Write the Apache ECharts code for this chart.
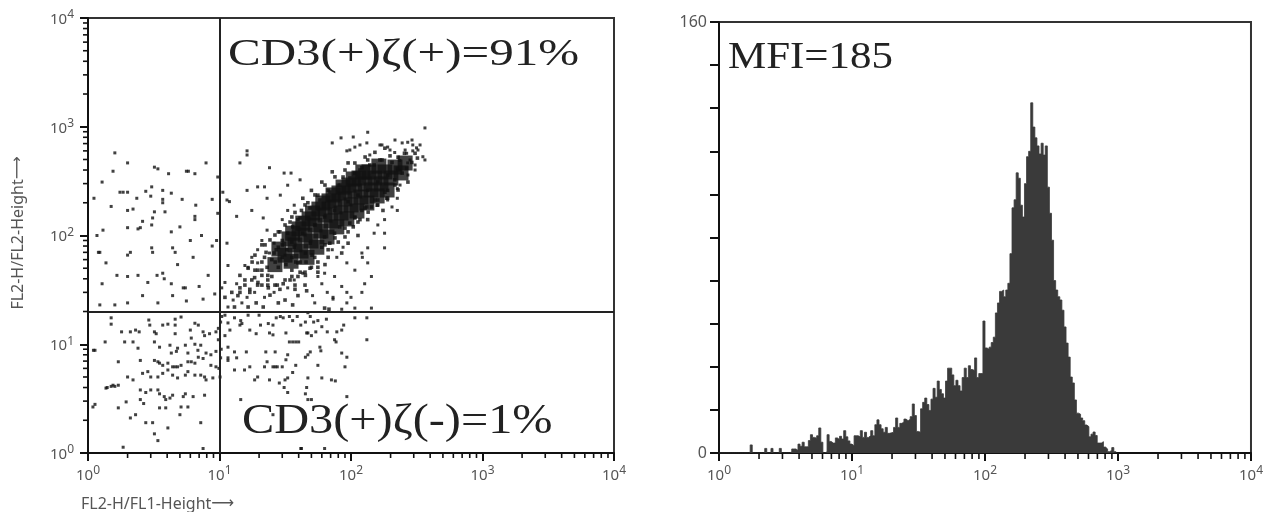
<!DOCTYPE html>
<html><head><meta charset="utf-8">
<script src="https://cdn.jsdelivr.net/npm/echarts@6/dist/echarts.min.js"></script>
<style>html,body{margin:0;padding:0;background:#fff}#c{width:1266px;height:512px}</style>
</head><body><div id="c"></div>
<script>
// ---------- tick labels ----------
const decadeValues = [1, 10, 100, 1000, 10000];
const decadeExponents = ['0', '1', '2', '3', '4'];
const minorTickValues = [2,3,4,5,6,7,8,9,20,30,40,50,60,70,80,90,200,300,400,500,600,700,800,900,2000,3000,4000,5000,6000,7000,8000,9000];
const histYLabelValues = [0, 160];

// ---------- dot plot (FL1 vs FL2) ----------
const quadrantX = 10;
const quadrantY = 20;
const lowerLeftPoints = [[1.5,17.5],[1.5,15.3],[2.9,16.7],[2.95,15],[3.7,15],[4.05,15.3],[4.6,17],[4.6,15],[5.1,17.8],[6.5,15.6],[6.9,15],[1.8,13],[2.1,13],[2.3,13.5],[2.45,13],[3.2,13],[3.3,12.5],[4.6,12.5],[6,13.5],[6.1,11.4],[7.5,13],[7.7,12],[8.4,12.5],[9.4,13],[1.13,8.8],[1.35,10.5],[1.9,10.5],[2.2,10.5],[2.4,9.2],[3.2,10.5],[3.5,9.4],[4.2,9.8],[4.3,8.3],[4.7,8.6],[4.8,9.2],[5.5,9.8],[5.75,8.3],[6.5,10],[6.85,8.8],[7.2,9.8],[7.9,8.3],[8.6,8],[9.4,8.6],[1.7,6.9],[2.5,7.1],[3.2,7.1],[3.4,6.9],[3.5,6.7],[3.7,6.4],[4.05,6.7],[4.4,6.2],[4.6,6.2],[4.8,6.2],[5.1,6.4],[5.75,6.9],[6.1,6.9],[6.5,6.7],[6.9,7.6],[7.5,7.4],[8.6,6.4],[9.4,6.2],[2.6,5.4],[2.85,5.6],[3.0,5.0],[3.4,5.0],[3.7,5.4],[4.05,5.8],[4.4,5.2],[4.8,4.9],[5.5,5.2],[5.75,5.6],[6.5,5.2],[7.2,5.2],[7.7,5.0],[7.9,4.7],[8.9,4.9],[1.37,3.95],[1.55,4.2],[1.7,4.2],[2.0,5.0],[2.2,4.7],[2.5,3.8],[2.75,3.6],[3.0,3.8],[3.4,3.8],[3.5,3.5],[3.8,3.3],[3.9,3.1],[4.2,3.2],[4.4,3.4],[5.3,3.3],[5.5,3.5],[6.3,3.3],[7.7,3.4],[1.09,2.65],[1.7,2.6],[1.95,2.95],[2.5,3.1],[2.65,2.85],[3.5,2.6],[3.9,2.6],[5.1,2.65],[5.75,2.65],[2.1,2.1],[2.3,2.25],[2.75,1.9],[3.1,1.9],[4.05,1.7],[5.0,2.25],[7.2,1.9],[3.2,1.5],[3.4,1.3],[1.85,1.13],[7.5,1.1],[1.1,8.8],[1.13,2.8],[1.4,4.0],[1.5,4.1],[1.6,4.1],[9.8,14],[9.8,11],[10.3,9],[10.2,7.5],[9.9,6],[10.1,5],[10.2,16],[10.4,18]];
const upperLeftPoints = [[1.6,575],[1.55,390],[2.0,465],[3.2,425],[3.4,410],[4.1,370],[5.6,390],[5.8,390],[6.5,370],[7.9,465],[1.28,310],[1.11,220],[1.5,185],[1.75,250],[1.85,250],[2.0,250],[2.35,220],[2.0,170],[2.2,175],[2.75,255],[3.05,280],[3.0,230],[3.7,260],[3.7,215],[3.7,200],[4.3,245],[5.2,215],[6.6,190],[8.8,215],[3.2,165],[3.1,145],[3.05,125],[3.85,165],[2.6,135],[2.5,118],[2.4,115],[2.0,118],[1.3,112],[1.17,100],[5.0,120],[4.3,108],[6.5,150],[6.5,140],[7.3,100],[6.0,90],[4.4,77],[3.05,77],[2.1,70],[1.2,70],[8.8,80],[9.5,90],[9.7,345],[9.7,160],[1.23,70],[2.0,66],[3.1,70],[4.6,70],[6.3,63],[1.37,56],[1.28,36],[1.66,43],[2.0,42],[2.4,43],[2.85,37],[3.35,43],[3.7,45],[3.8,40],[4.3,36],[4.8,54],[5.3,33],[5.5,33],[7.0,34],[8.2,43],[1.6,23],[2.0,24],[2.6,28],[3.4,24],[4.4,28],[5.6,25],[7.5,26],[9.2,29],[1.23,23]];
const lowerRightPoints = [[11,18.5],[11.6,15.7],[12,13.5],[11,12],[13,17.5],[14.5,16.5],[14.3,15],[14.8,15.5],[16.5,18.5],[17,13.5],[19,12.5],[20,18.5],[20.5,15],[23.5,15.5],[25.5,15],[27,17.5],[29,18],[30.5,17.5],[34,18],[36,16.5],[39,18],[41.5,15],[47,12.7],[54,13],[24,12.7],[25.5,12.2],[32,12.7],[34,10.5],[36,10.5],[40,10.5],[46,12.7],[11.6,9.4],[11.6,7.5],[11.6,7.1],[13,8.5],[16,8.5],[17,6.2],[22.5,8.5],[22,6.2],[23,6.9],[25.5,6.2],[26.5,6.2],[27.5,6.2],[26.5,8.5],[30,6.2],[32,7.2],[33,8],[36,5.5],[31.5,4.7],[33,4.9],[38,6.4],[47,8],[47,4.9],[38,10.5],[24,4.7],[28.5,4.4],[31,4],[33,3.6],[45,3.5],[13,5.8],[15.5,5.8],[18.5,4.7],[19.5,5],[47,3.1],[14.5,3.1],[25.5,2.25],[41.5,1.1],[13.5,7.5],[45,16],[49,18],[52,16],[56,16.5],[60,14.5],[65,17],[66,13],[78,13],[85,13.5],[88,15],[107,17.5],[132,17.5],[132,11],[75,11],[77,10.5],[50,12],[58,9.4],[59,8.7],[45,7.6],[49,8.5],[56,6.4],[85,8.3],[93,7.6],[90,6.2],[60,4.9],[71,4.7],[76,4.6],[46,4],[93,3.3],[50,3.1],[42,1.1],[63,1.1],[47,19.5]];
const upperRightSparse = [[365,975],[134,890],[104,805],[84,790],[72,710],[132,710],[107,650],[93,600],[172,680],[190,650],[245,710],[270,720],[295,680],[315,640],[295,600],[352,530],[265,570],[307,400],[270,465],[215,580],[235,490],[225,400],[225,270],[225,220],[225,170],[205,183],[190,212],[180,140],[160,125],[150,105],[180,105],[180,77],[134,77],[122,63],[134,56],[143,42],[127,36],[121,30],[143,21.5],[107,21.5],[93,24],[85,34],[75,42],[66,30],[73,27],[53,24],[51,28],[60,36],[56,42],[43,45],[37,39],[33,33],[26,30],[22,27],[18.5,30],[16.2,27],[14.8,24],[12.7,25.5],[11.6,22],[11,37],[10.4,33],[13.5,36],[16.5,51],[19.5,56],[11.6,53],[11.4,212],[11.9,205],[10.6,250],[14.3,465],[16.2,550],[16.2,600],[24,420],[31,375],[35,375],[41,325],[33,290],[16.2,260],[19.5,280],[22,280],[23,220],[29,235],[17.6,170],[13.5,150],[21.5,145],[30,140],[33,170],[37,190],[23,112],[21,90],[26,85],[19.5,74],[17.6,63],[15.6,53],[11.4,85],[24,69],[78,63],[87,78],[93,56],[107,48],[121,69],[72,74],[63,45],[73,26],[93,30],[100,27],[85,21],
  [216,755],[258,611],[291,755],[323,611],[281,495],[236,400],[335,680],[198,611],[166,680],[139,550],[117,680],[98,611],[271,360],[236,291],[307,445],[365,495]];
const upperRightHalo = [[11,27],[12.4,30],[13.8,28],[15.6,35],[17.6,39],[18.5,41],[21,48],[23,51],[25,42],[23.3,39],[28,51],[30,63],[32.5,74],[35.5,63],[37,78],[39.5,56],[45,69],[49,85],[53,63],[60,78],[63,97],[69,85],[75,105],[82,120],[90,97],[98,130],[107,148],[121,170],[134,140],[143,183],[160,212],[175,170],[190,260],[215,325],[245,375],[265,415],[290,470],[320,515],[307,570],[255,570],[228,525],[205,470],[172,495],[150,445],[134,495],[121,420],[107,375],[95,465],[87,345],[80,290],[72,385],[67,260],[60,310],[56,235],[50,260],[47,200],[43,220],[42,170],[39.5,140],[35.5,148],[36,120],[33,105],[30,90],[28,78],[26,69],[26.5,57],[22,63],[35.5,87],[43,105],[53,125],[63,148],[75,170],[95,205],[113,235],[134,260],[160,310],[190,360],[225,415],[187,220],[158,190],[132,183],[117,140],[104,120],[113,100],[95,85],[85,69],[67,63],[56,51],[50,51],[45,43],[39.5,42],[35.5,42],[30.5,36],[27.5,35],[23.5,33],[19.5,35],[17,30],[14.3,33],[13,22],[16.5,22],[19,24],[21.5,22],[28,24],[31.5,25.5],[36,23],[39.5,28],[46,31],[63,21.5],[68,21],
  [37.5,35],[44.7,46],[56,57],[67,74],[80,87],[95,108],[113,133],[135,164],[160,191],[190,221],[228,262],[271,310],[41,57],[50.5,66],[63.4,82],[75.5,95],[90,117],[107,145],[128,179],[152,212],[181,250],[216,291],
  [26.4,101],[31.5,125],[37.5,163],[44.7,191],[53.2,236],[63.4,291],[75.5,346],[90,400],[107,464],[128,527],[152,582],[181,635],[22.2,82],[28.8,108],[34.4,133],[41,145],[48.8,179],[58.1,212],[69.2,251],[82.5,291],[98.2,338],[117,400],[139,445],[166,495],[198,540],
  [17,32],[19.6,37],[21,43],[23.3,35],[18.6,48],[15.6,39],[14.3,30],[24.2,28.3],[28.8,32],[34.4,39],
  [17.7,57],[19.6,48],[21,57],[22.6,70],[25,60],[27,74],[30,82],[32,54],[35.5,48],[38,57],[41,46],[45.5,57],[48.8,50],[56,46],[63.4,54],[23.3,43],[21,35],[26.4,35],[31.5,39],[37.5,32],[44.7,35],[18.6,66],[16.5,50],[14.3,43],[24.2,91],[21,82],[28,108]];
const upperRightCore = [[26.4,54],[31.5,66],[37.5,82],[44.7,101],[53.2,125],[63.4,154],[75.5,183],[90,217],[107,257],[128,298],[152,338],[181,384],[216,426],[258,464],
  [35,58],[41.7,72],[49.6,89],[59,110],[70.5,136],[84,161],[100,191],[119,226],[142,262],[169,298],[201,338],[240,376],
  [28.3,75],[33.8,93],[40.3,115],[48,142],[57,175],[68,208],[81,246],[96.5,291],[115,338],[137,384],[163,435],
  [46.3,63],[55,78],[65.7,97],[78,120],[93,142],[111,168],[132,199],[158,231],[188,262],
  [36,105],[43,130],[51,161],[61,199],[73,236],[87,279],[104,331],[123,384]];

// ---------- histogram (64 channels per decade, counts per channel) ----------
const channelsPerDecade = 64;
const histCounts = [0,0,0,0,0,0,0,0,0,0,0,0,0,0,0,3,0,0,0,0,0,0,1.7,0,0,1.7,0,0,0,1.7,
  0,0,0,0,0.5,1.5,1.5,1,3.3,2.5,4,2.3,2.3,4.6,6.8,5.8,5.5,6.4,9.3,4,
  0,0.5,6.8,4.3,3.7,3.7,5.6,5,6.2,5.2,8.3,6,4.5,3.3,2.7,6.4,6.4,6,8.3,5.8,
  7.7,5.8,6.5,8.3,6.4,10.5,12.3,10.5,9,7.7,9.5,7.3,7.5,7.7,9.5,13,9.5,11,11.5,12.6,
  12,12.5,13.5,18.2,13.9,8,7.7,16.4,18.8,20.4,18,15.8,20,24,20.7,26.7,23.6,22,20.4,26.7,
  31.5,31.5,29,25,27,25,23,28,31.5,28,32.4,31,30.6,35.3,28,29.5,29.5,49,39,38.5,
  39.3,41,43,52,55.7,60,60.5,58,60.5,63,74,91,94,104,102,92,87.6,100,110,112,
  130,121,117,114,111,115,110.6,114,98.7,89,79,64,60.5,58,56.8,53,46.8,40.8,35.6,28.2,
  26,19.7,14.8,14.4,13,12,10.4,9.8,6,7,7.8,6.5,3.7,3.7,4.2,2.2,1.5,0.5,1,2,0.5];

// ---------- annotations ----------
const textPos = 'CD3(+)ζ(+)=91%';
const textNeg = 'CD3(+)ζ(-)=1%';
const textMFI = 'MFI=185';
const yName = 'FL2-H/FL2-Height';
const xName = 'FL2-H/FL1-Height';
const nameArrow = '⟶';

const chart = echarts.init(document.getElementById('c'));
const labelColor = '#555';
const sans = 'Noto Sans';
const serif = 'Liberation Serif';

function decadeFormatter(v) {
  const i = decadeValues.findIndex(d => Math.abs(d - v) / d < 1e-6);
  return i < 0 ? '' : '{b|10}{s|' + decadeExponents[i] + '}';
}
const decadeRich = {
  b: { fontSize: 15, fontFamily: sans, color: labelColor, lineHeight: 18, verticalAlign: 'bottom' },
  s: { fontSize: 12, fontFamily: sans, color: labelColor, verticalAlign: 'top', lineHeight: 12 }
};

function logAxis(gridIndex, labelMargin) {
  return {
    type: 'log', gridIndex, min: 1, max: 10000, logBase: 10, splitNumber: 4,
    axisLine: { show: true, lineStyle: { color: '#111', width: 2 } },
    axisTick: { show: true, length: 8, lineStyle: { color: '#111', width: 2 } },
    splitLine: { show: false },
    axisLabel: { formatter: decadeFormatter, rich: decadeRich, margin: labelMargin }
  };
}

function minorTicks(xi, yi, dir, base, len) {
  return {
    type: 'custom', xAxisIndex: xi, yAxisIndex: yi, silent: true, clip: false, z: 20,
    data: minorTickValues.map(v => dir === 'x' ? [v, base] : [base, v]),
    renderItem(params, api) {
      const p = api.coord([api.value(0), api.value(1)]);
      const shape = dir === 'x'
        ? { x1: p[0], y1: p[1], x2: p[0], y2: p[1] + len }
        : { x1: p[0], y1: p[1], x2: p[0] - len, y2: p[1] };
      return { type: 'line', shape, style: { stroke: '#111', lineWidth: 1.6 } };
    }
  };
}

const histData = histCounts.map((c, i) => [Math.pow(10, i / channelsPerDecade), c]);
histData.push([Math.pow(10, histCounts.length / channelsPerDecade), 0]);

const dotStyle = { color: '#111' };
const dot = 3;
const nameRich = {
  t: { fontSize: 16, fontFamily: sans, fill: labelColor, color: labelColor },
  a: { fontSize: 16, fontFamily: 'DejaVu Sans', fill: labelColor, color: labelColor }
};
const option = {
  animation: false,
  backgroundColor: '#fff',
  grid: [
    { left: 88, top: 18, width: 526, height: 435, show: true, borderColor: '#333', borderWidth: 2, backgroundColor: 'transparent' },
    { left: 719, top: 22, width: 536, height: 431, show: true, borderColor: '#333', borderWidth: 2, backgroundColor: 'transparent' }
  ],
  xAxis: [ logAxis(0, 12), logAxis(1, 12) ],
  yAxis: [
    logAxis(0, 14),
    {
      type: 'value', gridIndex: 1, min: 0, max: 160, interval: 16,
      axisLine: { show: true, lineStyle: { color: '#111', width: 2 } },
      axisTick: { show: true, length: 9, lineStyle: { color: '#111', width: 2 } },
      splitLine: { show: false },
      axisLabel: {
        margin: 12, fontSize: 16, fontFamily: sans, color: labelColor,
        formatter: v => histYLabelValues.indexOf(v) >= 0 ? String(v) : ''
      }
    }
  ],
  series: [
    { type: 'scatter', xAxisIndex: 0, yAxisIndex: 0, data: lowerLeftPoints, symbol: 'rect', symbolSize: dot, itemStyle: dotStyle, silent: true,
      markLine: { silent: true, symbol: ['none', 'none'], label: { show: false }, animation: false,
        lineStyle: { color: '#222', width: 2, type: 'solid' },
        data: [{ xAxis: quadrantX }, { yAxis: quadrantY }] } },
    { type: 'scatter', xAxisIndex: 0, yAxisIndex: 0, data: upperLeftPoints, symbol: 'rect', symbolSize: dot, itemStyle: dotStyle, silent: true },
    { type: 'scatter', xAxisIndex: 0, yAxisIndex: 0, data: lowerRightPoints, symbol: 'rect', symbolSize: dot, itemStyle: dotStyle, silent: true },
    { type: 'scatter', xAxisIndex: 0, yAxisIndex: 0, data: upperRightSparse, symbol: 'rect', symbolSize: dot, itemStyle: dotStyle, silent: true },
    { type: 'scatter', xAxisIndex: 0, yAxisIndex: 0, data: upperRightHalo, symbol: 'rect', symbolSize: 3.6, itemStyle: dotStyle, silent: true },
    { type: 'scatter', xAxisIndex: 0, yAxisIndex: 0, data: upperRightCore, symbol: 'rect', symbolSize: 15, itemStyle: dotStyle, silent: true },
    minorTicks(0, 0, 'x', 1, 5),
    minorTicks(0, 0, 'y', 1, 5),
    { type: 'line', xAxisIndex: 1, yAxisIndex: 1, step: 'end', data: histData, symbol: 'none', silent: true,
      lineStyle: { color: '#3a3a3a', width: 0.8 }, areaStyle: { color: '#3a3a3a', opacity: 1 } },
    minorTicks(1, 1, 'x', 0, 6)
  ],
  graphic: [
    { type: 'text', x: 18, y: 233, rotation: Math.PI / 2, style: { text: '{t|' + yName + '}{a|' + nameArrow + '}', rich: nameRich, fill: labelColor, align: 'center', verticalAlign: 'middle' } },
    { type: 'text', x: 81, y: 504, style: { text: '{t|' + xName + '}{a|' + nameArrow + '}', rich: nameRich, fill: labelColor, align: 'left', verticalAlign: 'middle' } },
    { type: 'text', x: 228, y: 55, scaleX: 1.29, style: { text: textPos, fontSize: 38, fontFamily: serif, fill: '#222', align: 'left', verticalAlign: 'middle' } },
    { type: 'text', x: 242, y: 422, scaleX: 1.15, style: { text: textNeg, fontSize: 42, fontFamily: serif, fill: '#222', align: 'left', verticalAlign: 'middle' } },
    { type: 'text', x: 728, y: 58, scaleX: 1.13, style: { text: textMFI, fontSize: 38, fontFamily: serif, fill: '#222', align: 'left', verticalAlign: 'middle' } }
  ]
};
chart.setOption(option);
</script>
</body></html>
